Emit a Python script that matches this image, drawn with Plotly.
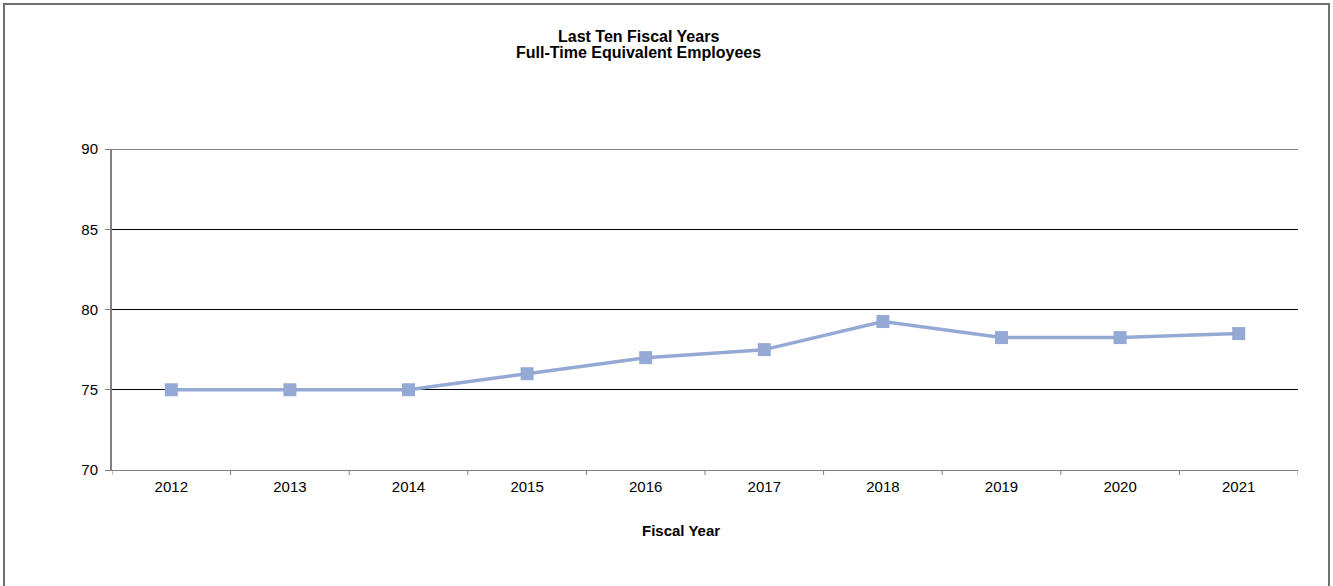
import plotly.graph_objects as go

years = ["2012", "2013", "2014", "2015", "2016", "2017", "2018", "2019", "2020", "2021"]
fte = [75, 75, 75, 76, 77, 77.5, 79.25, 78.25, 78.25, 78.5]
y_ticks = [70, 75, 80, 85, 90]

W, H = 1333, 586
L, R, T, B = 112, 35, 149, 116
pw, ph = W - L - R, H - T - B

def px_x(p):
    return (p - L) / pw

def px_y(p):
    return (H - B - p) / ph

fig = go.Figure()
fig.add_trace(go.Scatter(
    x=list(range(len(years))), y=fte, mode="lines+markers",
    line=dict(color="#94A9D3", width=3.5),
    marker=dict(symbol="square", size=13, color="#94A9D3"),
    showlegend=False, hoverinfo="x+y",
))

fig.update_layout(
    width=W, height=H,
    margin=dict(l=L, r=R, t=T, b=B),
    paper_bgcolor="white", plot_bgcolor="white",
    font=dict(family="Liberation Sans, Arial", size=15, color="black"),
    xaxis=dict(
        range=[-0.5, len(years) - 0.5],
        tickvals=list(range(len(years))), ticktext=years,
        showgrid=False, zeroline=False,
        showline=True, linecolor="#808080", linewidth=1,
        ticks="", tickfont=dict(size=15), ticklabelstandoff=3,
    ),
    yaxis=dict(
        range=[70, 90], tickvals=y_ticks,
        showgrid=True, gridcolor="black", gridwidth=1,
        zeroline=False, showline=True, linecolor="#808080", linewidth=2,
        ticks="outside", ticklen=5, tickcolor="#808080", tickwidth=1,
        tickfont=dict(size=15), ticklabelstandoff=4,
    ),
)

shapes = []
# top gridline at the range edge
shapes.append(dict(type="line", xref="paper", yref="y", x0=0, x1=1, y0=y_ticks[-1], y1=y_ticks[-1],
                   line=dict(color="black", width=1)))
# boundary ticks on x axis
for i in range(len(years) + 1):
    xv = i - 0.5
    shapes.append(dict(type="line", xref="x", yref="paper", x0=xv, x1=xv,
                       y0=0, y1=px_y(475), line=dict(color="#808080", width=1)))
# outer border
shapes.append(dict(type="rect", xref="paper", yref="paper",
                   x0=px_x(4), x1=px_x(1329), y0=px_y(592), y1=px_y(4),
                   line=dict(color="#707070", width=2), fillcolor="rgba(0,0,0,0)"))
fig.update_layout(shapes=shapes)

fig.add_annotation(text="<b>Last Ten Fiscal Years</b>",
                   xref="paper", yref="paper", x=px_x(638), y=px_y(37),
                   xanchor="center", yanchor="middle", showarrow=False,
                   font=dict(size=16, family="Liberation Sans, Arial"))
fig.add_annotation(text="<b>Full-Time Equivalent Employees</b>",
                   xref="paper", yref="paper", x=px_x(638), y=px_y(53),
                   xanchor="center", yanchor="middle", showarrow=False,
                   font=dict(size=16, family="Liberation Sans, Arial"))
fig.add_annotation(text="<b>Fiscal Year</b>",
                   xref="paper", yref="paper", x=px_x(681), y=px_y(530),
                   xanchor="center", yanchor="middle", showarrow=False,
                   font=dict(size=15, family="Liberation Sans, Arial"))

fig.write_html("out.html")
